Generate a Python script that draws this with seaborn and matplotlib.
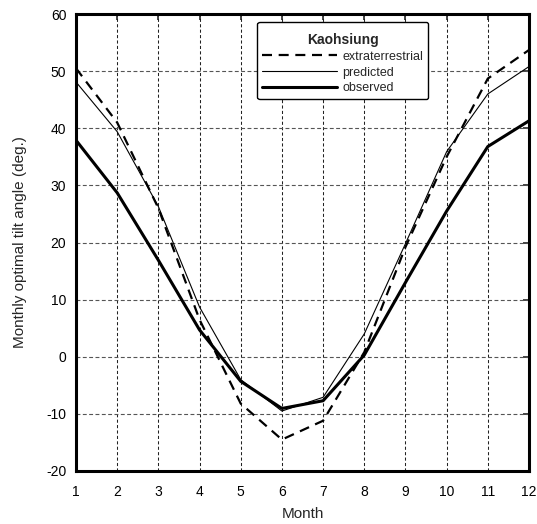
import numpy as np
import pandas as pd
import matplotlib
matplotlib.use("Agg")
import matplotlib.pyplot as plt
import seaborn as sns

# Data
months = [1, 2, 3, 4, 5, 6, 7, 8, 9, 10, 11, 12]
extraterrestrial = [50.5, 41.0, 26.0, 6.5, -8.2, -14.5, -11.2, 0.8, 19.2, 35.0, 48.7, 53.7]
predicted = [48.1, 39.4, 26.3, 8.7, -4.0, -9.5, -7.1, 4.0, 19.8, 35.9, 46.0, 50.8]
observed = [37.9, 28.7, 16.9, 4.7, -4.3, -9.05, -7.7, 0.3, 13.0, 25.5, 36.8, 41.3]

sns.set_style("white")
plt.rcParams['font.family'] = ['Liberation Sans', 'DejaVu Sans']
plt.rcParams['axes.unicode_minus'] = False

fig = plt.figure(figsize=(5.37, 5.24), dpi=100)
ax = fig.add_axes([76 / 537, 1 - 471 / 524, 453 / 537, 457 / 524])

sns.lineplot(x=months, y=extraterrestrial, ax=ax, color='black', linewidth=1.6,
             linestyle=(0, (4.5, 3)), label='extraterrestrial')
sns.lineplot(x=months, y=predicted, ax=ax, color='black', linewidth=0.8,
             label='predicted')
sns.lineplot(x=months, y=observed, ax=ax, color='black', linewidth=2.2,
             label='observed')

ax.set_xlim(1, 12)
ax.set_ylim(-20, 60)
ax.set_xticks(months)
ax.set_yticks(range(-20, 61, 10))
ax.xaxis.grid(True, color='#222222', linestyle=(0, (3, 2.2)), linewidth=0.75)
ax.yaxis.grid(True, color='#555555', linestyle=(0, (3.5, 2.2)), linewidth=0.8)
for s in ax.spines.values():
    s.set_linewidth(2.2)
    s.set_color('black')

ax.tick_params(axis='both', which='both', direction='out', length=4, width=1.2,
               labelsize=10, colors='black')
ax.tick_params(axis='x', pad=6)
ax.tick_params(axis='y', pad=3)
sec_x = ax.secondary_xaxis('top')
sec_x.set_xticks(months)
sec_x.tick_params(direction='in', length=4, width=1.2, labeltop=False)
sec_x.spines['top'].set_visible(False)
sec_y = ax.secondary_yaxis('right')
sec_y.set_yticks(range(-20, 61, 10))
sec_y.tick_params(direction='in', length=4, width=1.2, labelright=False)
sec_y.spines['right'].set_visible(False)

ax.set_xlabel('Month', fontsize=11, labelpad=6)
ax.set_ylabel('Monthly optimal tilt angle (deg.)', fontsize=11, labelpad=14)

leg = ax.legend(loc='upper left', bbox_to_anchor=(0.40, 0.983), borderaxespad=0,
                title='\nKaohsiung', handlelength=6.0, fontsize=9,
                title_fontproperties={'weight': 'bold', 'size': 10},
                frameon=True, fancybox=True, labelspacing=0.3,
                borderpad=0.4, handletextpad=0.4)
leg.get_title().set_linespacing(0.3)
leg.get_frame().set_edgecolor('black')
leg.get_frame().set_linewidth(1.0)
leg.get_frame().set_alpha(1)

fig.savefig('out.png', dpi=100)
